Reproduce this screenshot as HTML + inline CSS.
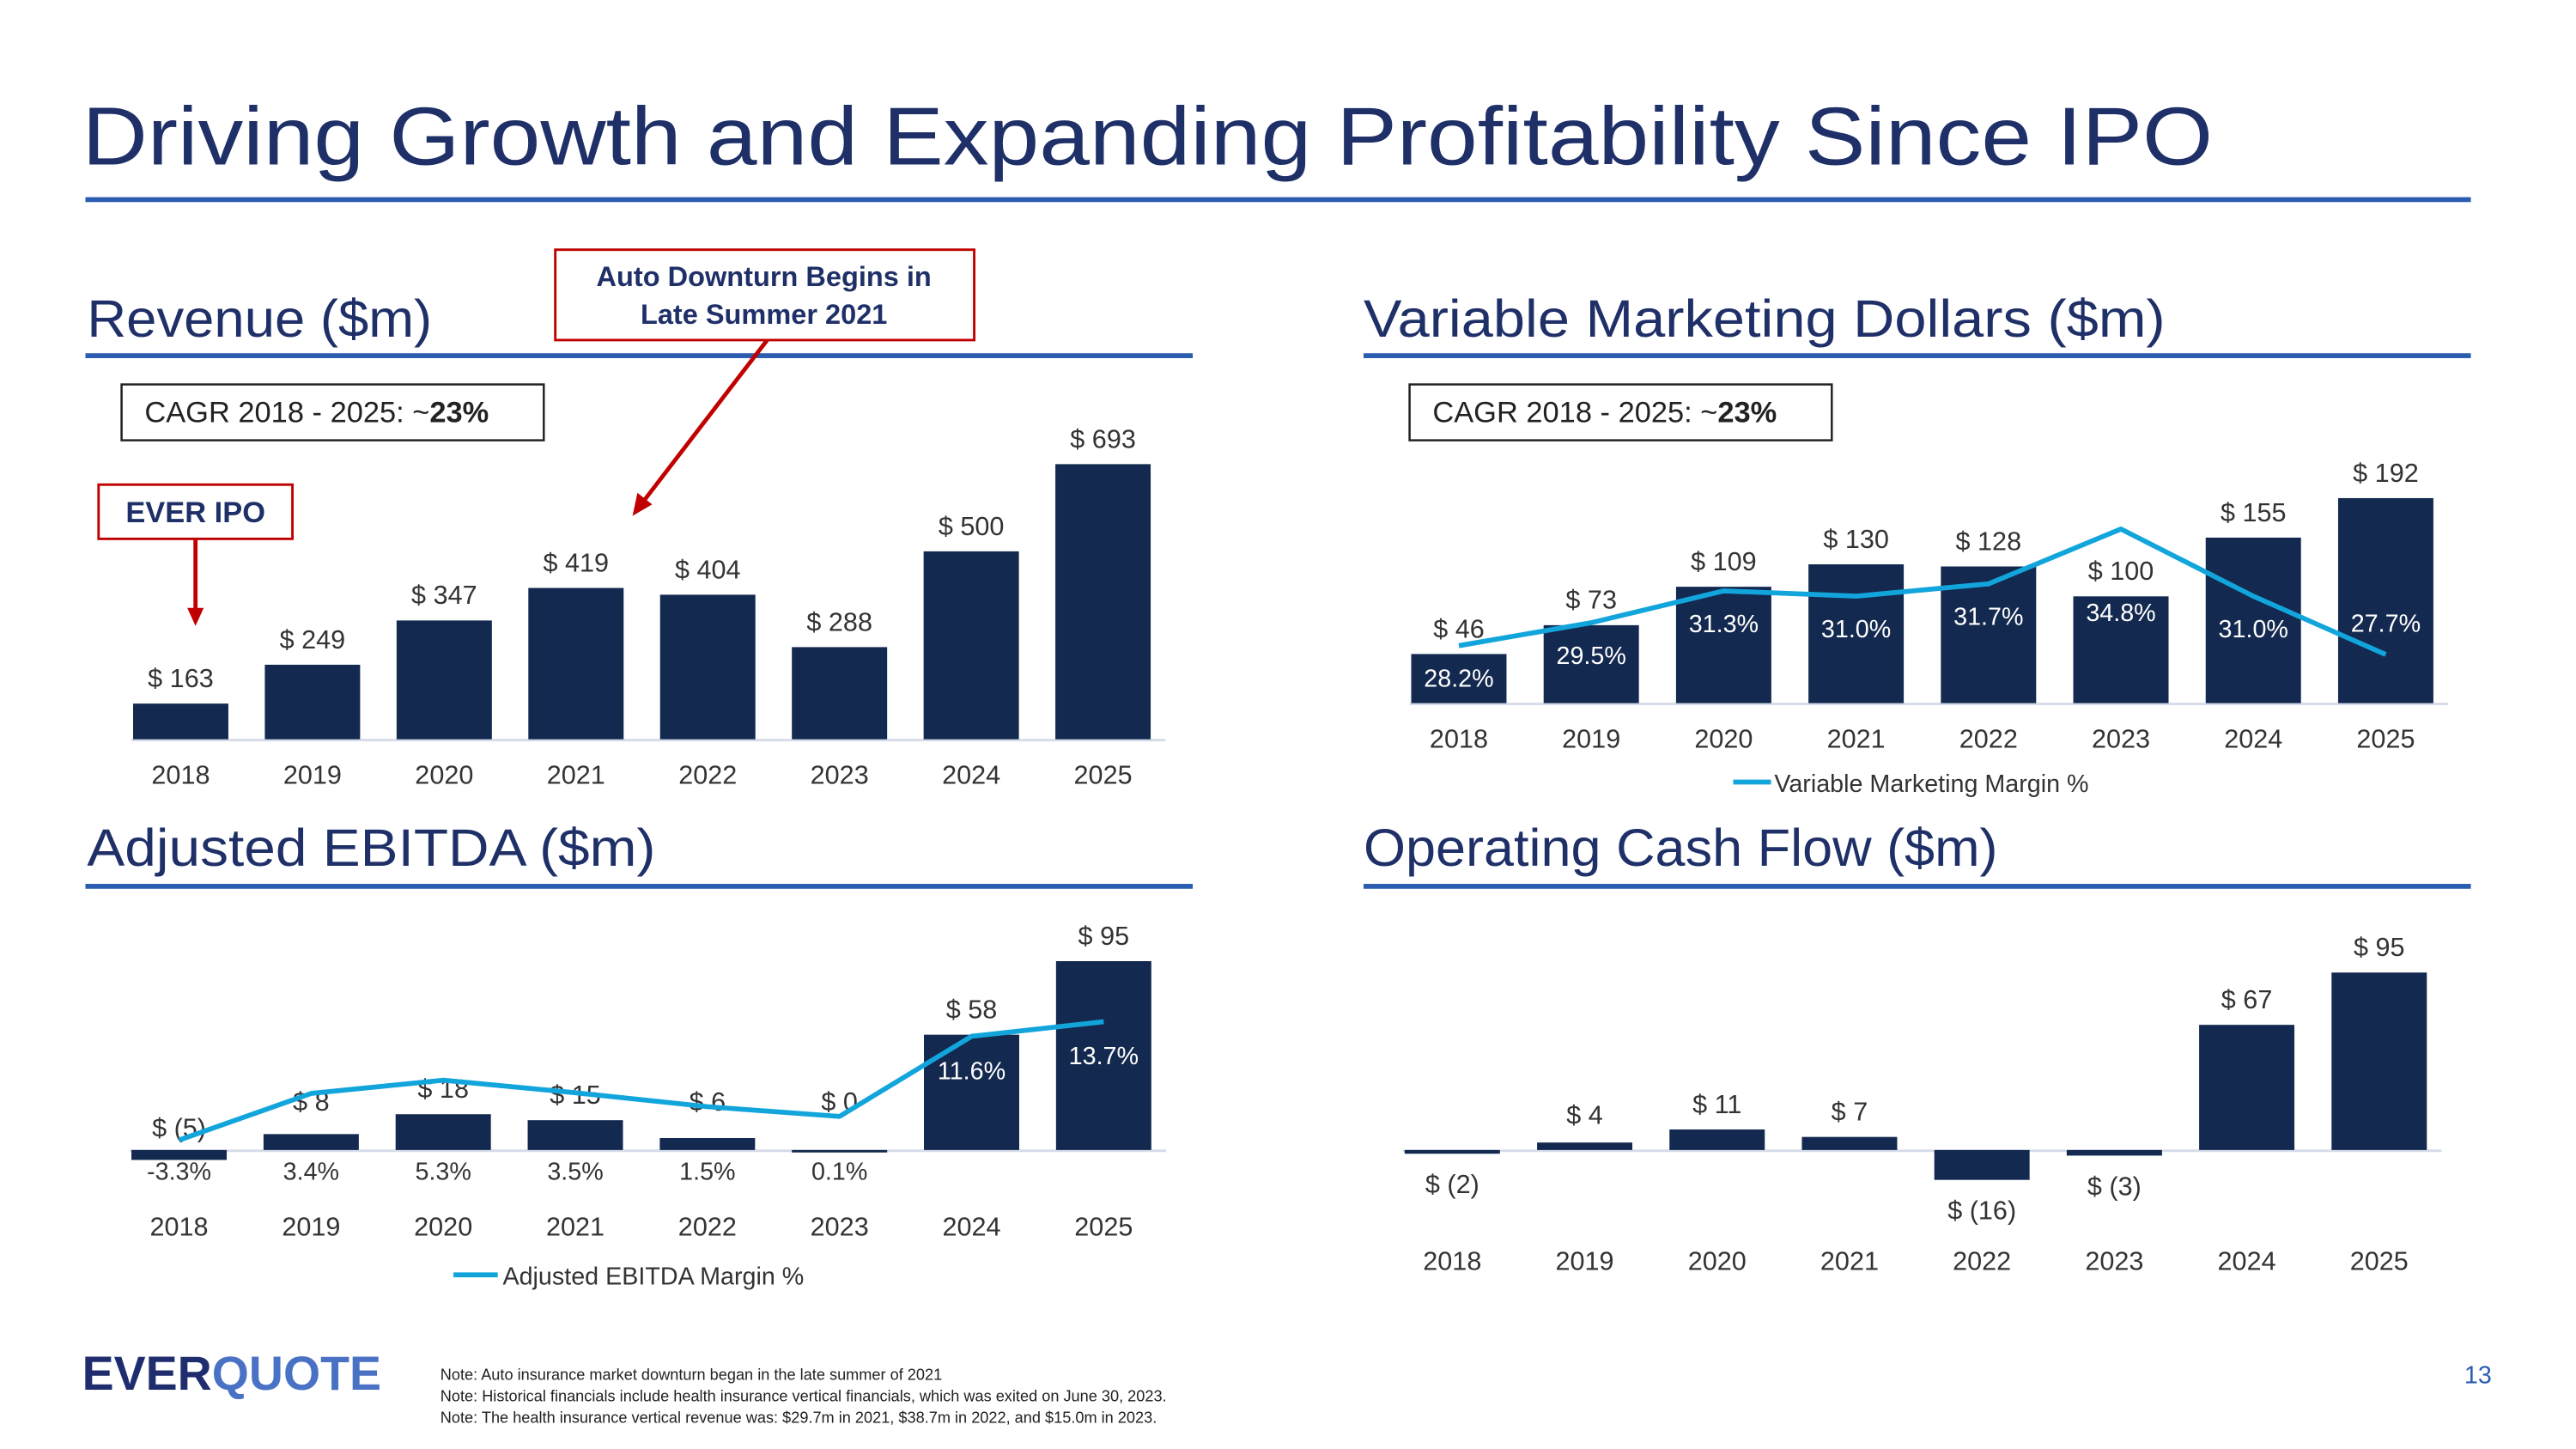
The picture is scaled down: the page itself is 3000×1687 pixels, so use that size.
<!DOCTYPE html>
<html><head><meta charset="utf-8"><style>
html,body{margin:0;padding:0;background:#fff;}
svg{display:block;font-family:"Liberation Sans",sans-serif;}
</style></head><body>
<svg id="s" width="3000" height="1687" viewBox="0 0 1568 882" preserveAspectRatio="none">
<text x="50" y="100" font-size="50" fill="#1f3068" textLength="1297" lengthAdjust="spacingAndGlyphs">Driving Growth and Expanding Profitability Since IPO</text>
<rect x="52" y="120" width="1452" height="3" fill="#2a5db0"/>
<text x="53" y="205" font-size="32" fill="#1f3068" textLength="210" lengthAdjust="spacingAndGlyphs">Revenue ($m)</text>
<rect x="52" y="215" width="674" height="3" fill="#2a5db0"/>
<text x="830" y="205" font-size="32" fill="#1f3068" textLength="488" lengthAdjust="spacingAndGlyphs">Variable Marketing Dollars ($m)</text>
<rect x="830" y="215" width="674" height="3" fill="#2a5db0"/>
<text x="53" y="527" font-size="32" fill="#1f3068" textLength="346" lengthAdjust="spacingAndGlyphs">Adjusted EBITDA ($m)</text>
<rect x="52" y="538" width="674" height="3" fill="#2a5db0"/>
<text x="830" y="527" font-size="32" fill="#1f3068" textLength="386" lengthAdjust="spacingAndGlyphs">Operating Cash Flow ($m)</text>
<rect x="830" y="538" width="674" height="3" fill="#2a5db0"/>

<g>
<rect x="338" y="152" width="255" height="55" fill="#fff" stroke="#c00000" stroke-width="1.5"/>
<text x="465" y="174" font-size="17" font-weight="bold" fill="#1f3068" text-anchor="middle">Auto Downturn Begins in</text>
<text x="465" y="197" font-size="17" font-weight="bold" fill="#1f3068" text-anchor="middle">Late Summer 2021</text>
</g>
<line x1="467" y1="207" x2="391" y2="306" stroke="#c00000" stroke-width="2.5"/>
<polygon points="385,314 388,300 397,307" fill="#c00000"/>

<g>
<rect x="74" y="234" width="257" height="34" fill="#fff" stroke="#222" stroke-width="1.3"/>
<text x="88" y="257" font-size="18" fill="#222">CAGR 2018 - 2025: ~<tspan font-weight="bold">23%</tspan></text>
</g>
<g>
<rect x="858" y="234" width="257" height="34" fill="#fff" stroke="#222" stroke-width="1.3"/>
<text x="872" y="257" font-size="18" fill="#222">CAGR 2018 - 2025: ~<tspan font-weight="bold">23%</tspan></text>
</g>
<g>
<rect x="60" y="295" width="118" height="33" fill="#fff" stroke="#c00000" stroke-width="1.5"/>
<text x="119" y="318" font-size="18" font-weight="bold" fill="#1f3068" text-anchor="middle">EVER IPO</text>
</g>
<line x1="119" y1="328" x2="119" y2="372" stroke="#c00000" stroke-width="2.5"/>
<polygon points="114,370 124,370 119,381" fill="#c00000"/>

<g id="charts"></g>

<g>
<line x1="1055" y1="476" x2="1078" y2="476" stroke="#12a5dc" stroke-width="3"/>
<text x="1080" y="482" font-size="15" fill="#333">Variable Marketing Margin %</text>
</g>
<g>
<line x1="276" y1="776" x2="303" y2="776" stroke="#12a5dc" stroke-width="3"/>
<text x="306" y="782" font-size="15" fill="#333">Adjusted EBITDA Margin %</text>
</g>

<text x="50" y="846" font-size="29" font-weight="bold"><tspan fill="#1f2d6e">EVER</tspan><tspan fill="#4a72c4">QUOTE</tspan></text>
<g font-size="9.5" fill="#222">
<text x="268" y="840">Note: Auto insurance market downturn began in the late summer of 2021</text>
<text x="268" y="853">Note: Historical financials include health insurance vertical financials, which was exited on June 30, 2023.</text>
<text x="268" y="866">Note: The health insurance vertical revenue was: $29.7m in 2021, $38.7m in 2022, and $15.0m in 2023.</text>
</g>
<text x="1500" y="842" font-size="15" fill="#2a5db0">13</text>
</svg>
<script>
const years = ['2018','2019','2020','2021','2022','2023','2024','2025'];
const revenueValues = [163,249,347,419,404,288,500,693];
const revenueLabels = ['$ 163','$ 249','$ 347','$ 419','$ 404','$ 288','$ 500','$ 693'];
const vmdValues = [46,73,109,130,128,100,155,192];
const vmdLabels = ['$ 46','$ 73','$ 109','$ 130','$ 128','$ 100','$ 155','$ 192'];
const vmdMargin = [28.2,29.5,31.3,31.0,31.7,34.8,31.0,27.7];
const ebitdaValues = [-5,8,18,15,6,0,58,95];
const ebitdaLabels = ['$ (5)','$ 8','$ 18','$ 15','$ 6','$ 0','$ 58','$ 95'];
const ebitdaMargin = [-3.3,3.4,5.3,3.5,1.5,0.1,11.6,13.7];
const ocfValues = [-2,4,11,7,-16,-3,67,95];
const ocfLabels = ['$ (2)','$ 4','$ 11','$ 7','$ (16)','$ (3)','$ 67','$ 95'];

const NS='http://www.w3.org/2000/svg';
const root=document.getElementById('charts');
function mk(tag,attrs,parent){const e=document.createElementNS(NS,tag);for(const k in attrs)e.setAttribute(k,attrs[k]);(parent||root).appendChild(e);return e;}
const NAVY='#13294f', CYAN='#12a5dc';

function barChart(cfg){
  const g=mk('g',{});
  
  
  const x=i=>cfg.x0+i*cfg.step;
  const y=v=>cfg.base-(v-cfg.min)*cfg.scale;
  const zero=y(Math.max(0,cfg.min));
  const ax=mk('line',{x1:cfg.x0-30,x2:x(7)+38,y1:zero+0.5,y2:zero+0.5,stroke:'#d5dbe8','stroke-width':1.5},g);
  
  
  cfg.values.forEach((v,i)=>{
    const yv=y(v), top=Math.min(yv,zero), h=Math.abs(yv-zero);
    const r=mk('rect',{x:x(i)-29,y:top,width:58,height:Math.max(h,1.5),fill:NAVY},g);
    
    
    let ly;
    if(v<0) ly=yv+(cfg.negLabelGap||18);
    else ly=Math.min(yv-10,zero-(cfg.minGap||10));
    const t=mk('text',{x:x(i),y:ly,'font-size':16,fill:'#333','text-anchor':'middle'},g);
    t.textContent=cfg.labels[i];
    
    
    const yl=mk('text',{x:x(i),y:cfg.yearY,'font-size':16,fill:'#333','text-anchor':'middle'},g);
    yl.textContent=years[i];
    
    
  });
  return {x,g};
}
function lineSeries(cfg,chart){
  const py=v=>cfg.base-(v-cfg.min)*cfg.scale;
  const pts=cfg.values.map((v,i)=>chart.x(i)+','+py(v)).join(' ');
  const pl=mk('polyline',{points:pts,fill:'none',stroke:CYAN,'stroke-width':3,'stroke-linejoin':'round'},chart.g);
  
  
  cfg.values.forEach((v,i)=>{
    const inside=cfg.inside(i);
    const t=mk('text',{x:chart.x(i),y:cfg.labelY(i,py(v)),'font-size':15,fill:inside?'#fff':'#333','text-anchor':'middle'},chart.g);
    t.textContent=v.toFixed(1)+'%';
    
    
  });
}

barChart({name:'revenue-chart',values:revenueValues,labels:revenueLabels,x0:110,step:80.2,base:450,min:84,scale:0.275,yearY:477});

const vmd=barChart({name:'vmd-chart',values:vmdValues,labels:vmdLabels,x0:888,step:80.6,base:428,min:0,scale:0.65,yearY:455});
lineSeries({name:'vmd-margin',values:vmdMargin,base:428,min:24.95,scale:10.76,
  inside:i=>true,
  labelY:(i,py)=> i===5?py+56:(i===7?py-14:py+25)},vmd);

const eb=barChart({name:'ebitda-chart',values:ebitdaValues,labels:ebitdaLabels,x0:109,step:80.4,base:700,min:0,scale:1.21,yearY:752,negLabelGap:-14,minGap:24});
lineSeries({name:'ebitda-margin',values:ebitdaMargin,base:700,min:-4.72,scale:4.24,
  inside:i=>i>=6,
  labelY:(i,py)=> i>=6?py+26:718},eb);

barChart({name:'ocf-chart',values:ocfValues,labels:ocfLabels,x0:884,step:80.6,base:700,min:0,scale:1.137,yearY:773,negLabelGap:24,minGap:16});
</script>
</body></html>
